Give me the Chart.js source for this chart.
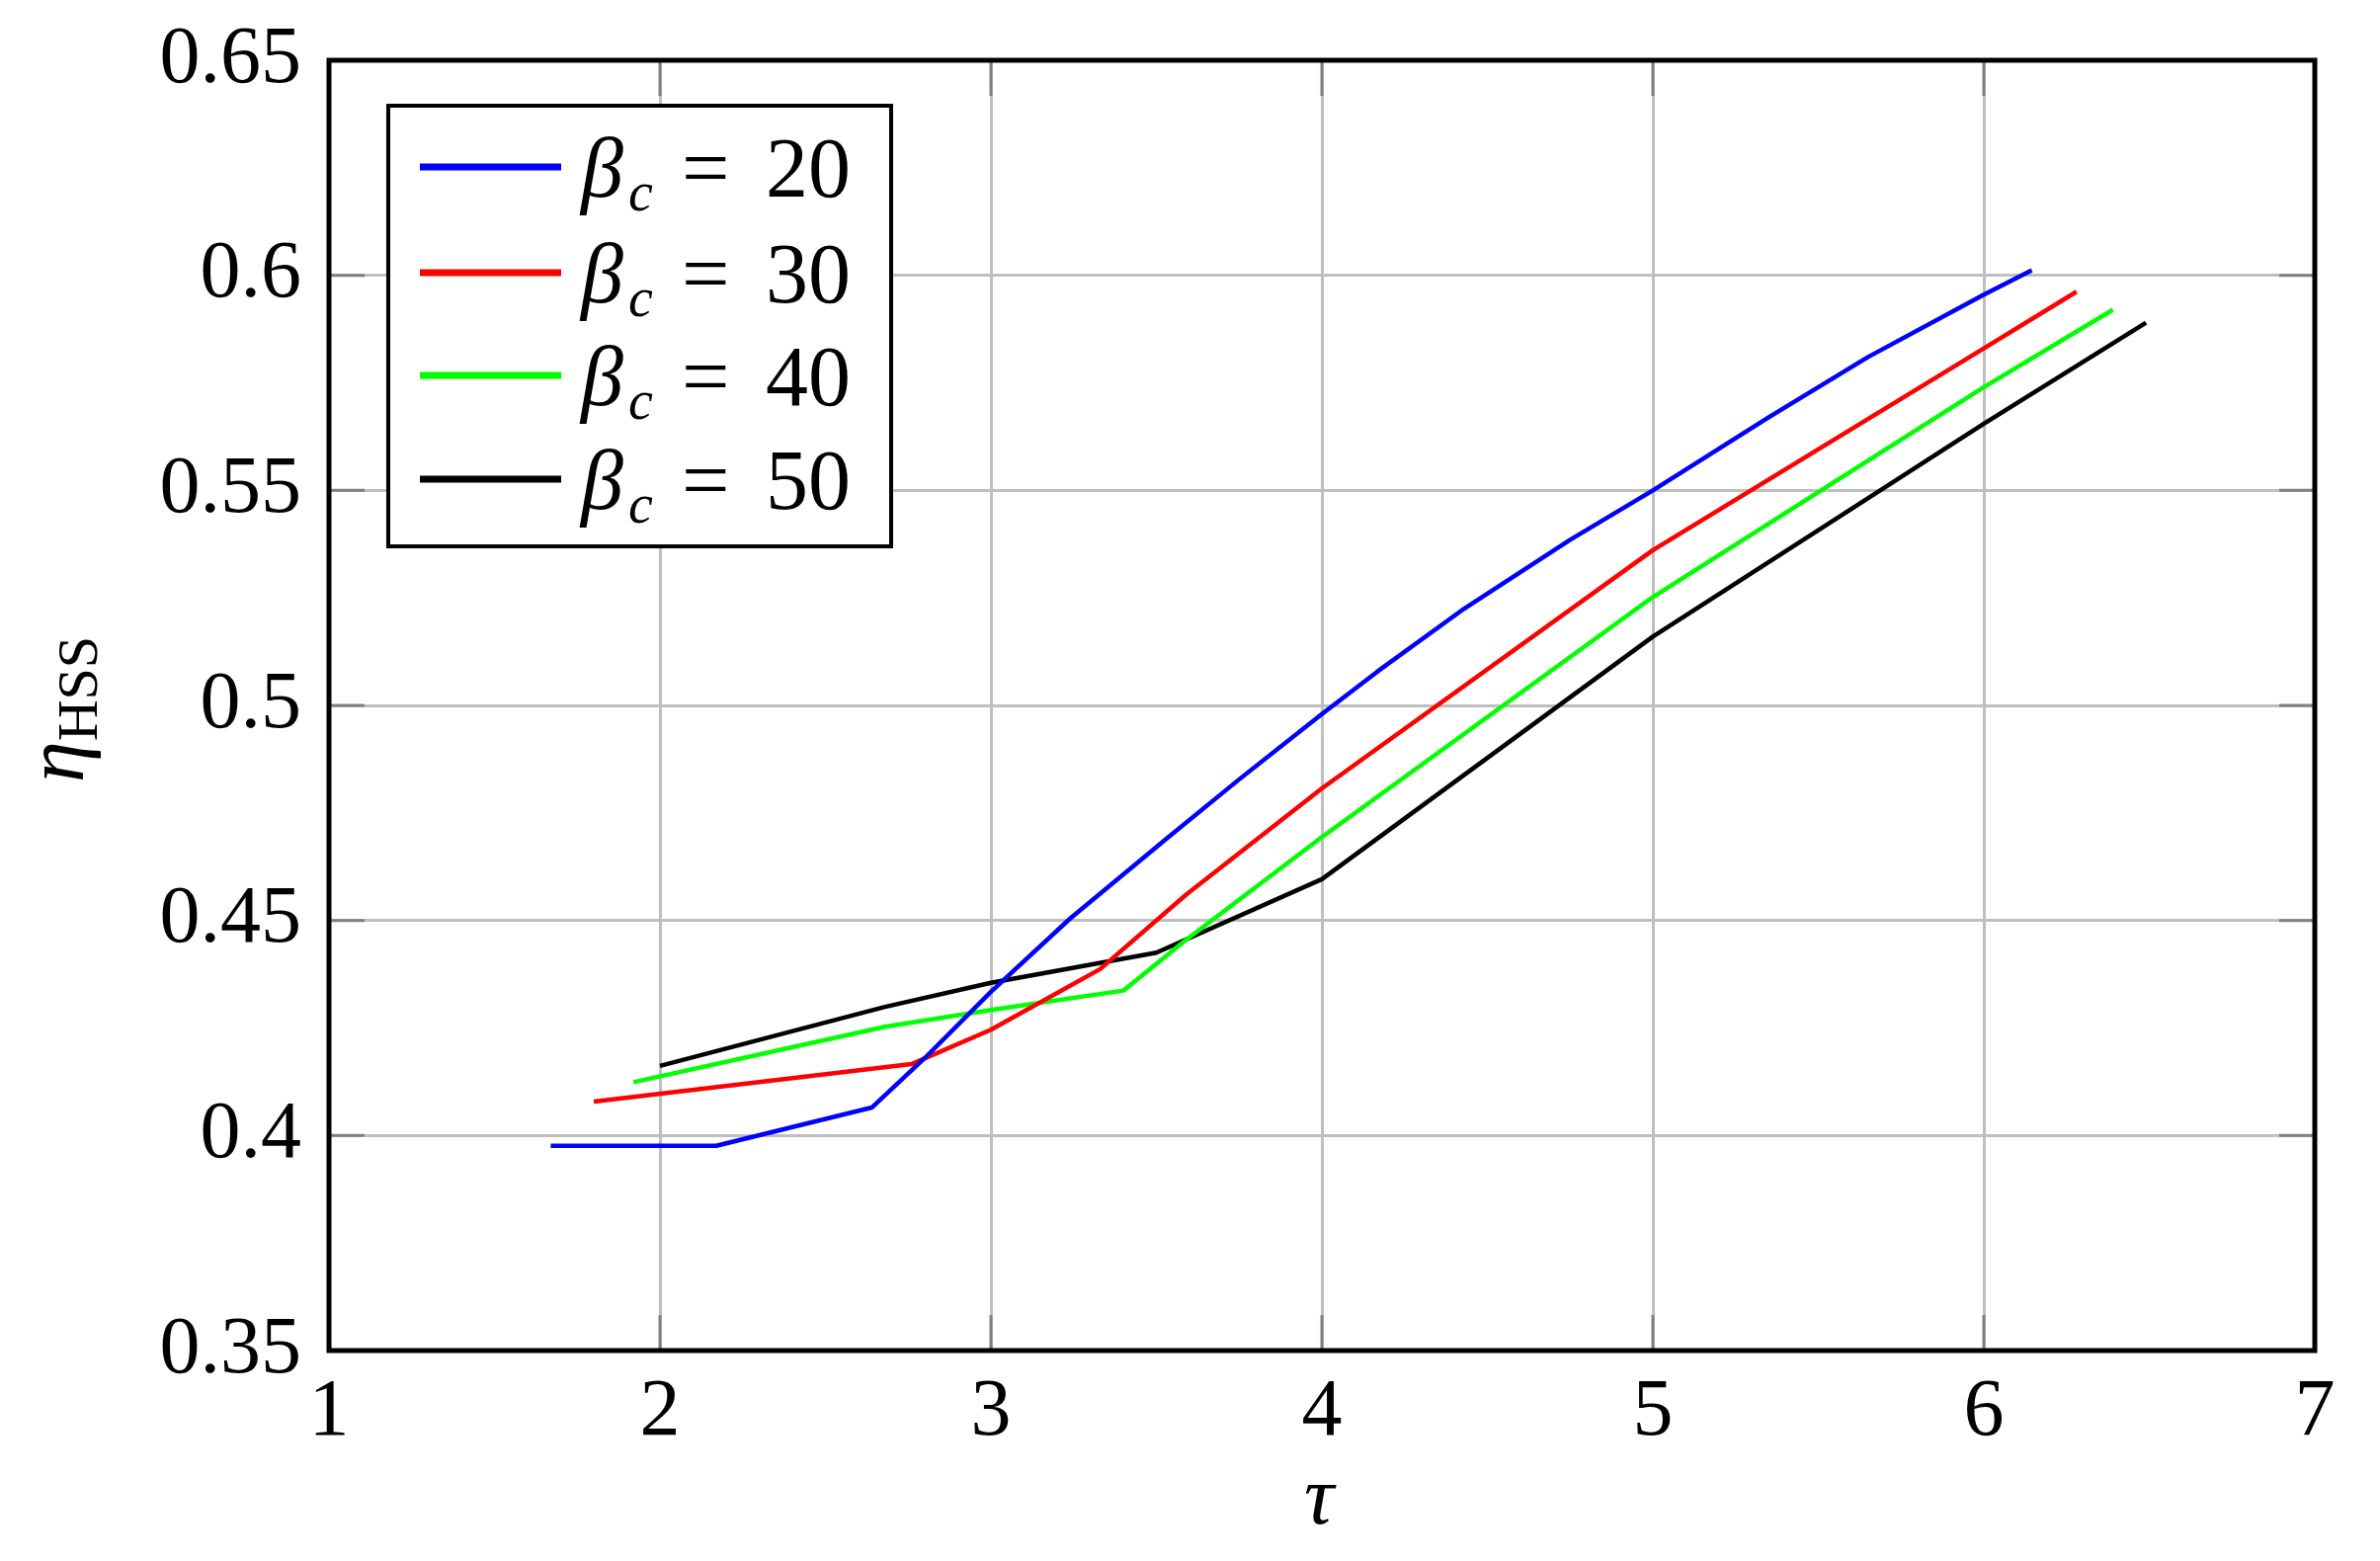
<!DOCTYPE html>
<html>
<head>
<meta charset="utf-8">
<script src="https://cdn.jsdelivr.net/npm/chart.js@4.4.1/dist/chart.umd.min.js"></script>
<style>
  html, body { margin: 0; padding: 0; background: #fff; }
</style>
</head>
<body>
<canvas id="etaChart" width="2409" height="1580"></canvas>
<script>
// axis ticks
const xTicks = [1, 2, 3, 4, 5, 6, 7];
const yTicks = [0.35, 0.4, 0.45, 0.5, 0.55, 0.6, 0.65];

// series: beta_c values and colours
const betaValues = [20, 30, 40, 50];
const lineColors = ['#0000ff', '#ff0000', '#00ff00', '#000000'];

// tau / eta_HSS
const tau20 = [1.67, 2.17, 2.64, 2.80, 3.00, 3.24, 3.53, 3.75, 4.00, 4.17, 4.43, 4.75, 5.00, 5.35, 5.65, 6.00, 6.145];
const eta20 = [0.3976, 0.3976, 0.4065, 0.418, 0.4334, 0.4505, 0.469, 0.4828, 0.498, 0.508, 0.5225, 0.5385, 0.550, 0.567, 0.581, 0.5955, 0.6012];

const tau30 = [1.80, 2.76, 3.00, 3.33, 3.59, 4.00, 5.00, 6.00, 6.28];
const eta30 = [0.4079, 0.4166, 0.4246, 0.4387, 0.456, 0.4807, 0.5361, 0.583, 0.5962];

const tau40 = [1.92, 2.68, 3.00, 3.40, 3.585, 4.00, 5.00, 6.00, 6.39];
const eta40 = [0.4124, 0.4253, 0.4292, 0.4337, 0.4452, 0.4694, 0.5252, 0.574, 0.592];

const tau50 = [2.00, 2.68, 3.00, 3.50, 4.00, 5.00, 6.00, 6.49];
const eta50 = [0.4162, 0.4299, 0.4355, 0.4425, 0.4596, 0.516, 0.5655, 0.589];

const allTau = [tau20, tau30, tau40, tau50];
const allEta = [eta20, eta30, eta40, eta50];

const serif = '"Liberation Serif", "DejaVu Serif", serif';

const datasets = betaValues.map((b, i) => ({
    label: 'βc = ' + b,
    data: allTau[i].map((t, k) => ({ x: t, y: allEta[i][k] })),
    borderColor: lineColors[i],
    backgroundColor: lineColors[i],
    borderWidth: 4.5,
    borderJoinStyle: 'round',
    showLine: true,
    pointRadius: 0,
    tension: 0
}));

// inner tick marks on all four sides + frame
const frameAndTicks = {
    id: 'frameAndTicks',
    beforeDatasetsDraw(chart) {
        const { ctx, chartArea: a, scales } = chart;
        ctx.save();
        ctx.strokeStyle = '#808080';
        ctx.lineWidth = 3;
        const len = 36;
        xTicks.forEach(v => {
            const px = scales.x.getPixelForValue(v);
            ctx.beginPath();
            ctx.moveTo(px, a.bottom); ctx.lineTo(px, a.bottom - len);
            ctx.moveTo(px, a.top); ctx.lineTo(px, a.top + len);
            ctx.stroke();
        });
        yTicks.forEach(v => {
            const py = scales.y.getPixelForValue(v);
            ctx.beginPath();
            ctx.moveTo(a.left, py); ctx.lineTo(a.left + len, py);
            ctx.moveTo(a.right, py); ctx.lineTo(a.right - len, py);
            ctx.stroke();
        });
        ctx.restore();
    },
    afterDatasetsDraw(chart) {
        const { ctx, chartArea: a } = chart;
        ctx.save();
        ctx.strokeStyle = '#000';
        ctx.lineWidth = 5;
        ctx.strokeRect(a.left, a.top, a.right - a.left, a.bottom - a.top);
        ctx.restore();
    }
};

// legend box inside plot + axis titles with subscripts
const labelsPlugin = {
    id: 'labelsPlugin',
    afterDraw(chart) {
        const { ctx, chartArea: a } = chart;
        ctx.save();

        // legend
        const bx = 393, by = 107, bw = 509, bh = 446;
        ctx.fillStyle = '#fff';
        ctx.fillRect(bx, by, bw, bh);
        ctx.strokeStyle = '#000';
        ctx.lineWidth = 4;
        ctx.strokeRect(bx, by, bw, bh);
        const rows = [169, 276, 380, 485];
        betaValues.forEach((b, i) => {
            const y = rows[i];
            ctx.strokeStyle = lineColors[i];
            ctx.lineWidth = 7;
            ctx.beginPath();
            ctx.moveTo(425, y); ctx.lineTo(568, y);
            ctx.stroke();
            ctx.fillStyle = '#000';
            ctx.textBaseline = 'alphabetic';
            ctx.textAlign = 'left';
            const base = y + 30;
            ctx.font = 'italic 86px ' + serif;
            ctx.fillText('β', 588, base);
            ctx.font = 'italic 56px ' + serif;
            ctx.fillText('c', 636, base + 14);
            ctx.font = '86px ' + serif;
            ctx.fillText('=', 690, base);
            ctx.fillText(String(b), 775, base);
        });

        // x title
        ctx.fillStyle = '#000';
        ctx.font = 'italic 84px ' + serif;
        ctx.textAlign = 'center';
        ctx.textBaseline = 'alphabetic';
        ctx.fillText('τ', 1335, 1542);

        // y title, rotated
        ctx.translate(84, 718);
        ctx.rotate(-Math.PI / 2);
        ctx.textAlign = 'left';
        ctx.font = 'italic 84px ' + serif;
        const w1 = ctx.measureText('η').width;
        ctx.font = '58px ' + serif;
        const w2 = ctx.measureText('HSS').width;
        const start = -(w1 + w2) / 2;
        ctx.font = 'italic 84px ' + serif;
        ctx.fillText('η', start, 0);
        ctx.font = '58px ' + serif;
        ctx.fillText('HSS', start + w1, 14);
        ctx.restore();
    }
};

new Chart(document.getElementById('etaChart').getContext('2d'), {
    type: 'scatter',
    data: { datasets },
    options: {
        responsive: false,
        animation: false,
        layout: { padding: { top: 61, right: 66, left: 0, bottom: 0 } },
        plugins: {
            legend: { display: false },
            tooltip: { enabled: false }
        },
        scales: {
            x: {
                type: 'linear',
                min: 1,
                max: 7,
                afterBuildTicks: s => { s.ticks = xTicks.map(v => ({ value: v })); },
                afterFit: s => { s.height = 213; s.paddingLeft = 0; s.paddingRight = 0; },
                grid: { color: '#bfbfbf', lineWidth: 3, drawTicks: false },
                border: { display: false },
                ticks: {
                    font: { family: serif, size: 82 },
                    color: '#000',
                    padding: 14,
                    maxRotation: 0,
                    callback: v => String(v)
                }
            },
            y: {
                type: 'linear',
                min: 0.35,
                max: 0.65,
                afterBuildTicks: s => { s.ticks = yTicks.map(v => ({ value: v })); },
                afterFit: s => { s.width = 333; s.paddingTop = 0; s.paddingBottom = 0; },
                grid: { color: '#bfbfbf', lineWidth: 3, drawTicks: false },
                border: { display: false },
                ticks: {
                    font: { family: serif, size: 82 },
                    color: '#000',
                    padding: 28,
                    callback: v => String(+Number(v).toFixed(2))
                }
            }
        }
    },
    plugins: [frameAndTicks, labelsPlugin],
});
</script>
</body>
</html>
